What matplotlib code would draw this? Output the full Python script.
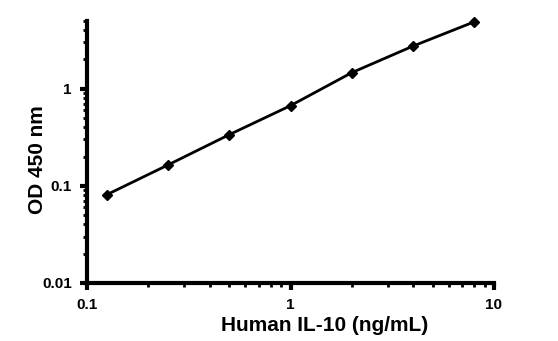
import numpy as np
import matplotlib
matplotlib.use('Agg')
import matplotlib.pyplot as plt
from matplotlib.ticker import LogLocator, FixedLocator, FixedFormatter, NullFormatter

# Standard curve data
conc = [0.125, 0.25, 0.5, 1, 2, 4, 8]
od = [0.081, 0.164, 0.336, 0.668, 1.46, 2.74, 4.87]

x_ticks = [0.1, 1, 10]
x_tick_labels = ['0.1', '1', '10']
y_ticks = [0.01, 0.1, 1]
y_tick_labels = ['0.01', '0.1', '1']

plt.rcParams['font.family'] = ['Liberation Sans', 'DejaVu Sans']
plt.rcParams['font.weight'] = 'bold'

fig = plt.figure(figsize=(5.58, 3.41), dpi=100)
ax = fig.add_axes([87 / 558, 1 - 283 / 341, (494 - 87) / 558, (283 - 20.7) / 341])

ax.plot(conc, od, color='black', linewidth=2, marker='D', markersize=5,
        markerfacecolor='black', markeredgecolor='black', clip_on=False)

ax.set_xscale('log')
ax.set_yscale('log')
ax.set_xlim(0.1, 10)
ax.set_ylim(0.01, 5)

ax.xaxis.set_major_locator(FixedLocator(x_ticks))
ax.xaxis.set_major_formatter(FixedFormatter(x_tick_labels))
ax.yaxis.set_major_locator(FixedLocator(y_ticks))
ax.yaxis.set_major_formatter(FixedFormatter(y_tick_labels))
ax.xaxis.set_minor_locator(LogLocator(base=10, subs=np.arange(2, 10)))
ax.yaxis.set_minor_locator(LogLocator(base=10, subs=np.arange(2, 10)))
ax.xaxis.set_minor_formatter(NullFormatter())
ax.yaxis.set_minor_formatter(NullFormatter())

for side in ['top', 'right']:
    ax.spines[side].set_visible(False)
for side in ['left', 'bottom']:
    ax.spines[side].set_linewidth(3)

ax.tick_params(which='major', direction='out', length=5, width=3, labelsize=11, pad=6)
ax.tick_params(which='minor', direction='out', length=3, width=2)

ax.set_xlabel('Human IL-10 (ng/mL)', fontsize=15, fontweight='bold')
ax.set_ylabel('OD 450 nm', fontsize=15, fontweight='bold')
ax.xaxis.set_label_coords(0.585, -0.125)
ax.yaxis.set_label_coords(-0.098, 0.469)

fig.savefig('out.png', dpi=100)
